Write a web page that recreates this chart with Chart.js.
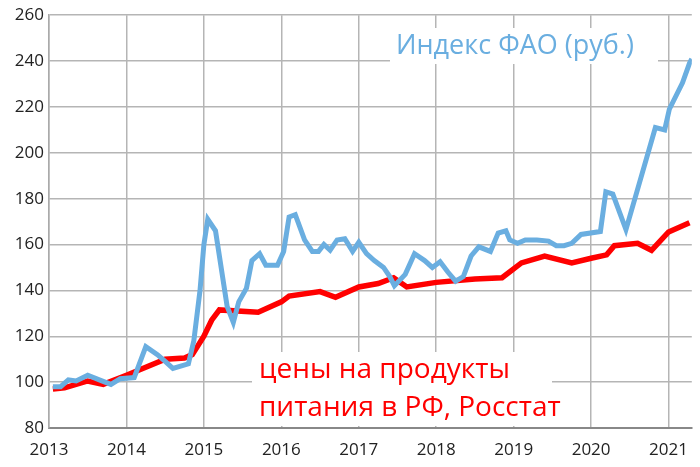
<!DOCTYPE html>
<html><head><meta charset="utf-8">
<script src="https://cdn.jsdelivr.net/npm/chart.js@4"></script>
<style>html,body{margin:0;padding:0;background:#fff}#w{width:700px;height:467px}</style>
</head><body><div id="w"><canvas id="c"></canvas></div>
<script>
const years=[2013,2014,2015,2016,2017,2018,2019,2020,2021];
const faoX=[2013.05,2013.15,2013.25,2013.35,2013.5,2013.65,2013.8,2013.92,2014.1,2014.25,2014.4,2014.5,2014.6,2014.8,2014.87,2014.95,2015.0,2015.05,2015.15,2015.3,2015.38,2015.45,2015.55,2015.62,2015.72,2015.8,2015.95,2016.03,2016.1,2016.18,2016.3,2016.4,2016.48,2016.55,2016.63,2016.72,2016.82,2016.92,2017.0,2017.1,2017.2,2017.32,2017.4,2017.46,2017.6,2017.72,2017.85,2017.95,2018.05,2018.15,2018.25,2018.35,2018.45,2018.55,2018.7,2018.8,2018.9,2018.95,2019.05,2019.15,2019.3,2019.45,2019.55,2019.65,2019.75,2019.87,2020.12,2020.19,2020.28,2020.45,2020.83,2020.95,2021.01,2021.18,2021.27,2021.3];
const faoY=[98,98,101,100.5,103,101,99,101.5,102,115.5,112,109,106,108,118,140,160,171,166,133,126,135,141,153,156,151,151,157,172,173,162,157,157,160,157.5,162,162.5,157,161,156,153,150,146,142,147,156,153,150,152.5,148,144,146,155,159,157,165,166,162,160.5,162,162,161.5,159.5,159.5,160.5,164.4,165.7,183,182,166.5,211,210,219,230.5,239,241];
const rusX=[2013.05,2013.2,2013.5,2013.7,2014.0,2014.5,2014.75,2014.85,2015.0,2015.1,2015.2,2015.7,2016.0,2016.1,2016.5,2016.7,2017.0,2017.25,2017.45,2017.62,2018.0,2018.5,2018.85,2019.1,2019.4,2019.75,2020.0,2020.2,2020.3,2020.6,2020.78,2021.0,2021.27];
const rusY=[97,97.5,100.5,99,103,110,110.5,112,120,127,131.5,130.5,135,137.5,139.5,137,141.5,143,145.5,141.5,143.5,145,145.5,152,155,152,154,155.5,159.5,160.5,157.5,165.5,169.5];
const toPts=(xs,ys)=>xs.map((x,i)=>({x,y:ys[i]}));
const F='"Open Sans", sans-serif';
const labels={id:'labels',
 beforeDatasetsDraw(ch){const c=ch.ctx;c.save();c.fillStyle='#fff';
  c.fillRect(390,28,268,36);c.fillRect(252,352,300,74);c.restore();},
 afterDatasetsDraw(ch){const c=ch.ctx;c.save();c.textBaseline='middle';
  c.font='27px '+F;c.fillStyle='#6aaee0';c.fillText('Индекс ФАО (руб.)',396,46);
  c.fillStyle='#ff0000';c.font='28px '+F;c.fillText('цены на продукты',259,370);c.fillText('питания в РФ, Росстат',259,408);c.restore();}};
new Chart(document.getElementById('c'),{type:'line',
 data:{datasets:[
  {data:toPts(faoX,faoY),borderColor:'#6aaee0',borderWidth:5,pointRadius:0,tension:0},
  {data:toPts(rusX,rusY),borderColor:'#ff0000',borderWidth:5.5,pointRadius:0,tension:0}]},
 options:{animation:false,responsive:true,maintainAspectRatio:false,
  layout:{padding:{top:9,right:0,left:0,bottom:0}},
  plugins:{legend:{display:false},tooltip:{enabled:false}},
  scales:{
   x:{type:'linear',min:2013,max:2021.3,afterFit(s){s.height=39},
    afterBuildTicks(s){s.ticks=years.map(v=>({value:v}))},
    ticks:{autoSkip:false,padding:12,color:'#222',font:{family:F,size:17},maxRotation:0,callback:v=>String(v)},
    grid:{color:'#b5b5b5',lineWidth:1.5,drawTicks:false},border:{color:'#888',width:2}},
   y:{min:80,max:260,afterFit(s){s.width=49},
    ticks:{stepSize:20,color:'#222',font:{family:F,size:17},padding:5},
    grid:{color:'#b5b5b5',lineWidth:1.5,drawTicks:false},border:{color:'#aaa',width:1.5}}}},
 plugins:[labels]});
</script></body></html>
